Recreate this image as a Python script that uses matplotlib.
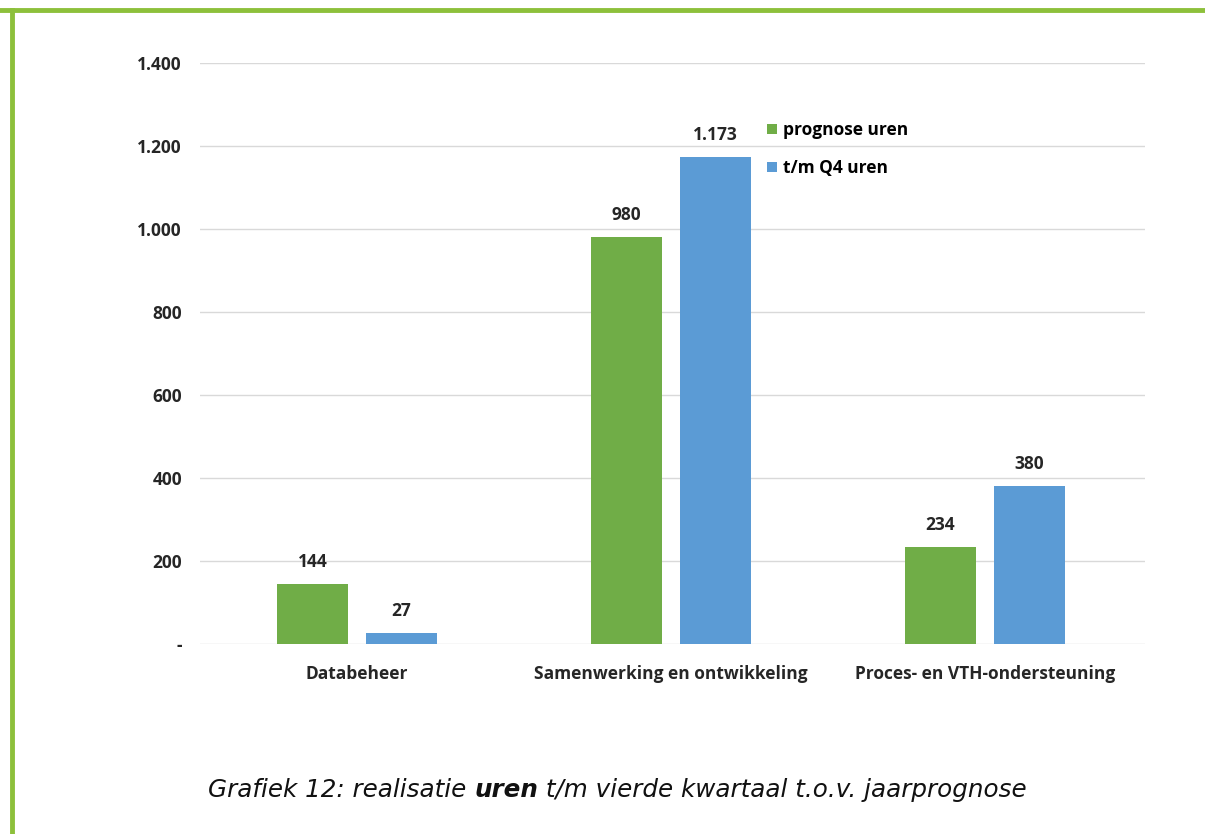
import numpy as np
import matplotlib
matplotlib.use("Agg")
import matplotlib.pyplot as plt
from matplotlib.lines import Line2D

categories = ["Databeheer", "Samenwerking en ontwikkeling", "Proces- en VTH-ondersteuning"]
prognose = [144, 980, 234]
realisatie = [27, 1173, 380]
series_names = ["prognose uren", "t/m Q4 uren"]
yticks = [0, 200, 400, 600, 800, 1000, 1200, 1400]

GREEN = "#70AD47"
BLUE = "#5B9BD5"
FONT = "Open Sans"
FS = 12.5


def nl_fmt(v):
    if v == 0:
        return "-"
    return f"{v:,}".replace(",", ".")


fig = plt.figure(figsize=(12.05, 8.34), dpi=100)

# green frame (top + left only, like the cropped screenshot)
fig.add_artist(Line2D([0.0, 1.0], [1 - 10 / 834, 1 - 10 / 834], color="#8DC03B", lw=3.5,
                      transform=fig.transFigure))
fig.add_artist(Line2D([12 / 1205, 12 / 1205], [0, 1 - 10 / 834], color="#8DC03B", lw=3.5,
                      transform=fig.transFigure))

ax = fig.add_axes([200 / 1205, 1 - 644 / 834, 945 / 1205, 581 / 834])
x = np.arange(len(categories))
off = 0.142
w = 0.226
b1 = ax.bar(x - off, prognose, w, color=GREEN, label=series_names[0], zorder=3)
b2 = ax.bar(x + off, realisatie, w, color=BLUE, label=series_names[1], zorder=3)

for bars, vals in ((b1, prognose), (b2, realisatie)):
    for r, v in zip(bars, vals):
        ax.text(r.get_x() + r.get_width() / 2, v + 32, nl_fmt(v), ha="center", va="bottom",
                fontsize=FS, fontweight="bold", family=FONT, color="#262626")

ax.set_xlim(-0.5, 2.51)
ax.set_ylim(0, 1400)
ax.set_yticks(yticks)
ax.set_yticklabels([nl_fmt(v) for v in yticks])
ax.set_xticks(x)
ax.set_xticklabels(categories)
for lab in ax.get_xticklabels() + ax.get_yticklabels():
    lab.set_fontsize(FS)
    lab.set_fontweight("bold")
    lab.set_family(FONT)
    lab.set_color("#262626")
ax.tick_params(axis="both", length=0)
ax.tick_params(axis="y", pad=13)
ax.tick_params(axis="x", pad=15)
ax.grid(axis="y", color="#D9D9D9", lw=1, zorder=0)
for s in ax.spines.values():
    s.set_visible(False)

ax.legend(loc="upper left", bbox_to_anchor=(0.6, 0.9), frameon=False,
          handlelength=0.55, handleheight=0.55, handletextpad=0.4, labelspacing=1.15,
          borderaxespad=0, borderpad=0,
          prop={"family": FONT, "weight": "bold", "size": FS})

# caption built from three pieces so that "uren" is bold
cy = 1 - 790 / 834
cap = dict(fontsize=17.7, style="italic", family="DejaVu Sans", color="#111111",
           va="center", ha="left")
t1 = fig.text(208 / 1205, cy, "Grafiek 12: realisatie ", **cap)
fig.canvas.draw()
r = fig.canvas.get_renderer()
bb = t1.get_window_extent(r)
t2 = fig.text(bb.x1 / fig.bbox.width, cy, "uren", fontweight="bold", **cap)
bb2 = t2.get_window_extent(r)
fig.text(bb2.x1 / fig.bbox.width, cy, " t/m vierde kwartaal t.o.v. jaarprognose", **cap)

fig.savefig("out.png", dpi=100)
